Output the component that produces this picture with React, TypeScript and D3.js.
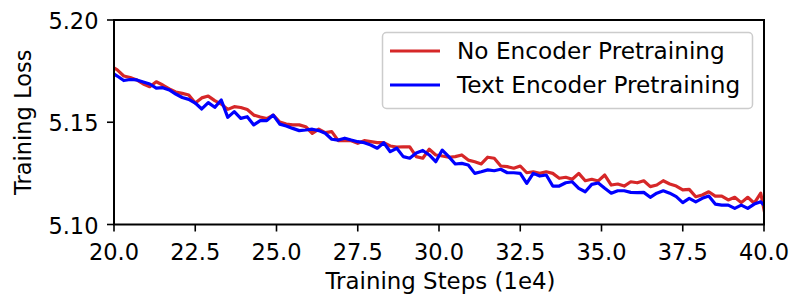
import { useMemo } from 'react'
import * as d3 from 'd3'

// checkpoints every 0.2 (1e4 steps), starting just before the visible range
const stepStart = 19.9
const stepSize = 0.2

const noEncoder = [
  5.1775, 5.1756, 5.1726, 5.1719, 5.1707, 5.1687, 5.1674, 5.1698, 5.1682, 5.1663,
  5.1648, 5.1641, 5.1633, 5.1594, 5.1619, 5.1628, 5.1606, 5.1589, 5.1563, 5.1576,
  5.1572, 5.1562, 5.1535, 5.1526, 5.1518, 5.1535, 5.1501, 5.1491, 5.1487, 5.1487,
  5.1478, 5.1446, 5.1466, 5.1449, 5.1454, 5.1410, 5.1410, 5.1410, 5.1397, 5.1410,
  5.1405, 5.1400, 5.1400, 5.1384, 5.1379, 5.1380, 5.1380, 5.1332, 5.1324, 5.1368,
  5.1340, 5.1335, 5.1329, 5.1332, 5.1340, 5.1315, 5.1307, 5.1296, 5.1329, 5.1324,
  5.1286, 5.1283, 5.1275, 5.1286, 5.1253, 5.1258, 5.1250, 5.1258, 5.1250, 5.1226,
  5.1231, 5.1221, 5.1250, 5.1214, 5.1221, 5.1213, 5.1242, 5.1193, 5.1198, 5.1188,
  5.1209, 5.1204, 5.1214, 5.1185, 5.1193, 5.1214, 5.1198, 5.1188, 5.1169, 5.1172,
  5.1136, 5.1144, 5.1160, 5.1139, 5.1139, 5.1120, 5.1133, 5.1107, 5.1133, 5.1104,
  5.1153, 5.0993,
]

const textEncoder = [
  5.1746, 5.1726, 5.1704, 5.1709, 5.1707, 5.1697, 5.1687, 5.1667, 5.1669, 5.1658,
  5.1638, 5.1621, 5.1612, 5.1594, 5.1565, 5.1596, 5.1573, 5.1609, 5.1524, 5.1552,
  5.1519, 5.1527, 5.1487, 5.1508, 5.1508, 5.1535, 5.1491, 5.1482, 5.1470, 5.1459,
  5.1462, 5.1466, 5.1459, 5.1446, 5.1417, 5.1413, 5.1422, 5.1413, 5.1405, 5.1400,
  5.1389, 5.1373, 5.1400, 5.1356, 5.1373, 5.1332, 5.1324, 5.1350, 5.1362, 5.1340,
  5.1307, 5.1364, 5.1332, 5.1296, 5.1299, 5.1291, 5.1250, 5.1258, 5.1267, 5.1263,
  5.1270, 5.1253, 5.1253, 5.1250, 5.1201, 5.1250, 5.1237, 5.1242, 5.1188, 5.1188,
  5.1204, 5.1209, 5.1177, 5.1160, 5.1196, 5.1203, 5.1177, 5.1153, 5.1165, 5.1165,
  5.1157, 5.1156, 5.1157, 5.1133, 5.1153, 5.1165, 5.1153, 5.1136, 5.1107, 5.1128,
  5.1111, 5.1128, 5.1139, 5.1100, 5.1095, 5.1095, 5.1079, 5.1095, 5.1079, 5.1100,
  5.1111, 5.1079,
]

const seriesNames = ['No Encoder Pretraining', 'Text Encoder Pretraining']
const seriesColors = ['#d62728', '#0000ff']

const xTicks = [20, 22.5, 25, 27.5, 30, 32.5, 35, 37.5, 40]
const yTicks = [5.1, 5.15, 5.2]

const W = 792
const H = 299
const left = 114
const right = 764
const top = 20
const bottom = 224.5
const font = 'DejaVu Sans, sans-serif'
const fs = 22.5

export default function App() {
  const x = d3.scaleLinear().domain([20, 40]).range([left, right])
  const y = d3.scaleLinear().domain([5.1, 5.2]).range([bottom, top])

  const paths = useMemo(() => {
    const line = d3.line<number>()
      .x((_, i) => x(stepStart + stepSize * i))
      .y(v => y(v))
    return [noEncoder, textEncoder].map(s => line(s))
  }, [])

  return (
    <svg width={W} height={H} style={{ position: 'absolute', left: 0, top: 0 }}
      fontFamily={font}>
      <defs>
        <clipPath id="plot">
          <rect x={left} y={top} width={right - left} height={bottom - top} />
        </clipPath>
      </defs>
      <rect width={W} height={H} fill="white" />

      <g clipPath="url(#plot)">
        {paths.map((d, i) => (
          <path key={i} d={d ?? ''} fill="none" stroke={seriesColors[i]}
            strokeWidth={3.2} strokeLinejoin="round" />
        ))}
      </g>

      <rect x={left} y={top} width={right - left} height={bottom - top}
        fill="none" stroke="black" strokeWidth={2} />

      {xTicks.map(t => (
        <g key={t} transform={`translate(${x(t)},${bottom})`}>
          <line y2={7} stroke="black" strokeWidth={1.6} />
          <text y={35.5} textAnchor="middle" fontSize={fs}>{d3.format('.1f')(t)}</text>
        </g>
      ))}
      {yTicks.map(t => (
        <g key={t} transform={`translate(${left},${y(t)})`}>
          <line x2={-7} stroke="black" strokeWidth={1.6} />
          <text x={-15.5} y={9} textAnchor="end" fontSize={fs}>{d3.format('.2f')(t)}</text>
        </g>
      ))}

      <text x={(left + right) / 2 + 1.5} y={289} textAnchor="middle" fontSize={22.9}>
        Training Steps (1e4)
      </text>
      <text transform={`translate(31,${(top + bottom) / 2}) rotate(-90)`}
        textAnchor="middle" fontSize={fs}>Training Loss</text>

      <g>
        <rect x={382.5} y={32.5} width={370} height={76} rx={4}
          fill="white" fillOpacity={0.8} stroke="#cccccc" strokeWidth={1.5} />
        {seriesNames.map((name, i) => (
          <g key={name} transform={`translate(0,${51 + i * 34})`}>
            <line x1={390} x2={440} stroke={seriesColors[i]} strokeWidth={3} />
            <text x={457} y={8.3} fontSize={23.2}>{name}</text>
          </g>
        ))}
      </g>
    </svg>
  )
}
